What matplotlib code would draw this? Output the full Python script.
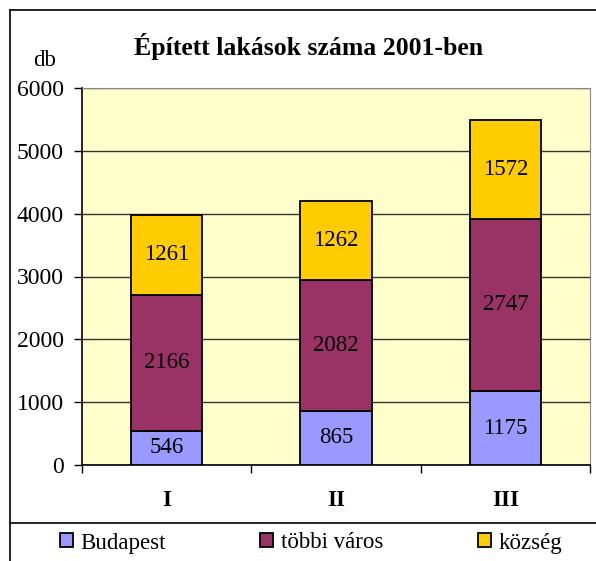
import numpy as np
import matplotlib.pyplot as plt
from matplotlib.lines import Line2D
from matplotlib.patches import Patch

plt.rcParams['font.family'] = ['Liberation Serif', 'DejaVu Serif']

categories = ['I', 'II', 'III']
budapest = [546, 865, 1175]
tobbi_varos = [2166, 2082, 2747]
kozseg = [1261, 1262, 1572]

series = [('Budapest', budapest, '#9999FF'),
          ('többi város', tobbi_varos, '#993366'),
          ('község', kozseg, '#FFCC00')]

fig = plt.figure(figsize=(5.96, 5.61), dpi=100)
ax = fig.add_axes([82/596, 1 - 465/561, 508/596, 377/561])
ax.set_facecolor('#FFFFCC')

x = np.arange(len(categories))
bottom = np.zeros(len(categories))
handles = []
for name, vals, col in series:
    vals = np.array(vals)
    ax.bar(x, vals, width=0.42, bottom=bottom, color=col,
           edgecolor='black', linewidth=1.3, zorder=3)
    for xi, b, v in zip(x, bottom, vals):
        ax.text(xi, b + v / 2, str(v), ha='center', va='center',
                fontsize=16.5, zorder=4)
    bottom += vals
    handles.append(Patch(facecolor=col, edgecolor='black', linewidth=1.3, label=name))

ax.set_xlim(-0.5, 2.5)
ax.set_ylim(0, 6000)
ax.set_yticks(range(0, 6001, 1000))
ax.yaxis.grid(True, color='#333333', linewidth=1, zorder=1)
ax.set_axisbelow(True)

ax.set_xticks(x)
ax.set_xticklabels(categories, fontweight='bold', fontsize=16.5)
ax.set_xticks([-0.5, 0.5, 1.5, 2.5], minor=True)
ax.tick_params(axis='x', which='major', length=0, pad=18)
ax.tick_params(axis='x', which='minor', length=6, width=1, direction='out')
ax.tick_params(axis='y', length=6, width=1, direction='out', pad=7, labelsize=17)

ax.spines['top'].set_color('#888888')
ax.spines['right'].set_color('#888888')
ax.spines['left'].set_linewidth(1.2)
ax.spines['bottom'].set_linewidth(1.2)

fig.text(309/596, 1 - 47/561, 'Épített lakások száma 2001-ben',
         ha='center', va='center', fontsize=18.5, fontweight='bold')
fig.text(45/596, 1 - 60/561, 'db', ha='center', va='center', fontsize=16.5)

# frame and legend separator
fig.add_artist(Line2D([10/596, 10/596], [0, 1 - 10/561], color='black', linewidth=1.2))
fig.add_artist(Line2D([10/596, 1], [1 - 10/561, 1 - 10/561], color='black', linewidth=1.2))
fig.add_artist(Line2D([10/596, 1], [1 - 523/561, 1 - 523/561], color='black', linewidth=1.2))

# legend entries spread along the bottom band
legend_x = [60, 260, 478]
for h, lx in zip(handles, legend_x):
    fig.legend(handles=[h], loc='center left', frameon=False,
               bbox_to_anchor=(lx/596, 1 - 543/561), fontsize=16.5,
               handlelength=0.55, handleheight=0.55, handletextpad=0.35,
               borderaxespad=0, borderpad=0)

fig.savefig('out.png', dpi=100)
